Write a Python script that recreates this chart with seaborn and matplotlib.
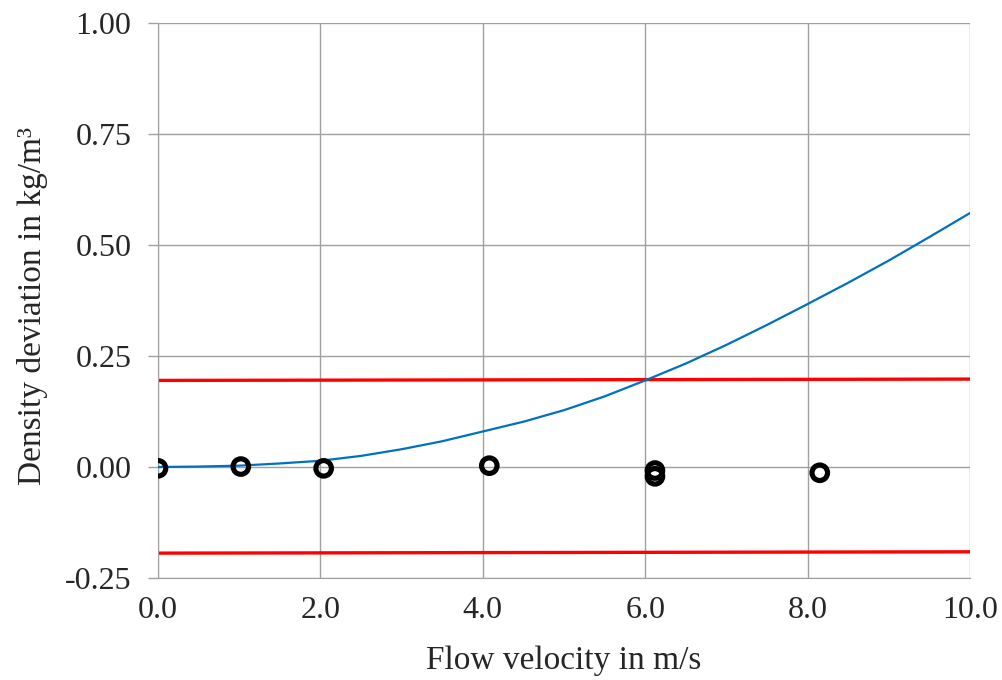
import matplotlib

matplotlib.use("Agg", force=True)
import matplotlib.pyplot as plt
import numpy as np
import pandas as pd
import seaborn as sns
from matplotlib.ticker import FixedLocator, StrMethodFormatter

sns.set_style("white")
plt.rcParams["font.family"] = ["Liberation Serif", "DejaVu Serif"]
plt.rcParams["axes.unicode_minus"] = False

# model curve
curve_x = [0, 0.5, 1, 1.5, 2, 2.5, 3, 3.5, 4, 4.5, 5, 5.5, 6, 6.5, 7, 7.5, 8, 8.5, 9, 9.5, 10]
curve_y = [0.0, 0.001, 0.003, 0.008, 0.014, 0.025, 0.04, 0.058, 0.08, 0.102, 0.128,
           0.159, 0.195, 0.233, 0.275, 0.32, 0.367, 0.415, 0.465, 0.518, 0.572]

# tolerance limits
limit_x = [0, 10]
upper_y = [0.195, 0.198]
lower_y = [-0.194, -0.191]

# measured deviations
meas_x = [0.0, 1.02, 2.04, 4.08, 6.12, 6.12, 8.15]
meas_y = [-0.003, 0.001, -0.003, 0.003, -0.008, -0.021, -0.013]

x_ticks = [0, 2, 4, 6, 8, 10]
y_ticks = [-0.25, 0.0, 0.25, 0.5, 0.75, 1.0]

fig = plt.figure(figsize=(10.02, 6.8), dpi=100)
ax = fig.add_axes([158 / 1002, 1 - 578 / 680, 812 / 1002, 555 / 680])

grid_col = "#a0a0a0"
for v in x_ticks:
    ax.axvline(v, color=grid_col, lw=1.0, zorder=0)
for v in y_ticks:
    ax.axhline(v, color=grid_col, lw=1.0, zorder=0)

sns.lineplot(x=limit_x, y=upper_y, color="#ff0000", lw=2.4, ax=ax, zorder=2)
sns.lineplot(x=limit_x, y=lower_y, color="#ff0000", lw=2.4, ax=ax, zorder=2)
sns.lineplot(x=curve_x, y=curve_y, color="#0070c0", lw=1.6, ax=ax, zorder=3)

meas = pd.DataFrame({"v": meas_x, "d": meas_y})
sns.scatterplot(data=meas, x="v", y="d", marker="o", s=125, facecolor="none",
                edgecolor="black", linewidth=3.7, ax=ax, zorder=4)

ax.set_xlim(0, 10)
ax.set_ylim(-0.25, 1.0)
ax.xaxis.set_major_locator(FixedLocator(x_ticks))
ax.yaxis.set_major_locator(FixedLocator(y_ticks))
ax.xaxis.set_major_formatter(StrMethodFormatter("{x:.1f}"))
ax.yaxis.set_major_formatter(StrMethodFormatter("{x:.2f}"))

for s in ax.spines.values():
    s.set_visible(False)
ax.spines["left"].set_visible(True)
ax.spines["bottom"].set_visible(True)
ax.spines["left"].set_color(grid_col)
ax.spines["bottom"].set_color(grid_col)

ax.tick_params(axis="y", direction="out", length=7, width=1, color=grid_col,
               pad=12, labelsize=23, left=True)
ax.tick_params(axis="x", length=0, pad=13, labelsize=23)

ax.set_xlabel("Flow velocity in m/s", fontsize=24, labelpad=15)
ax.set_ylabel("Density deviation in kg/m³", fontsize=24)
ax.yaxis.set_label_coords(-0.136, 0.49)

fig.savefig("out.png", dpi=100)
